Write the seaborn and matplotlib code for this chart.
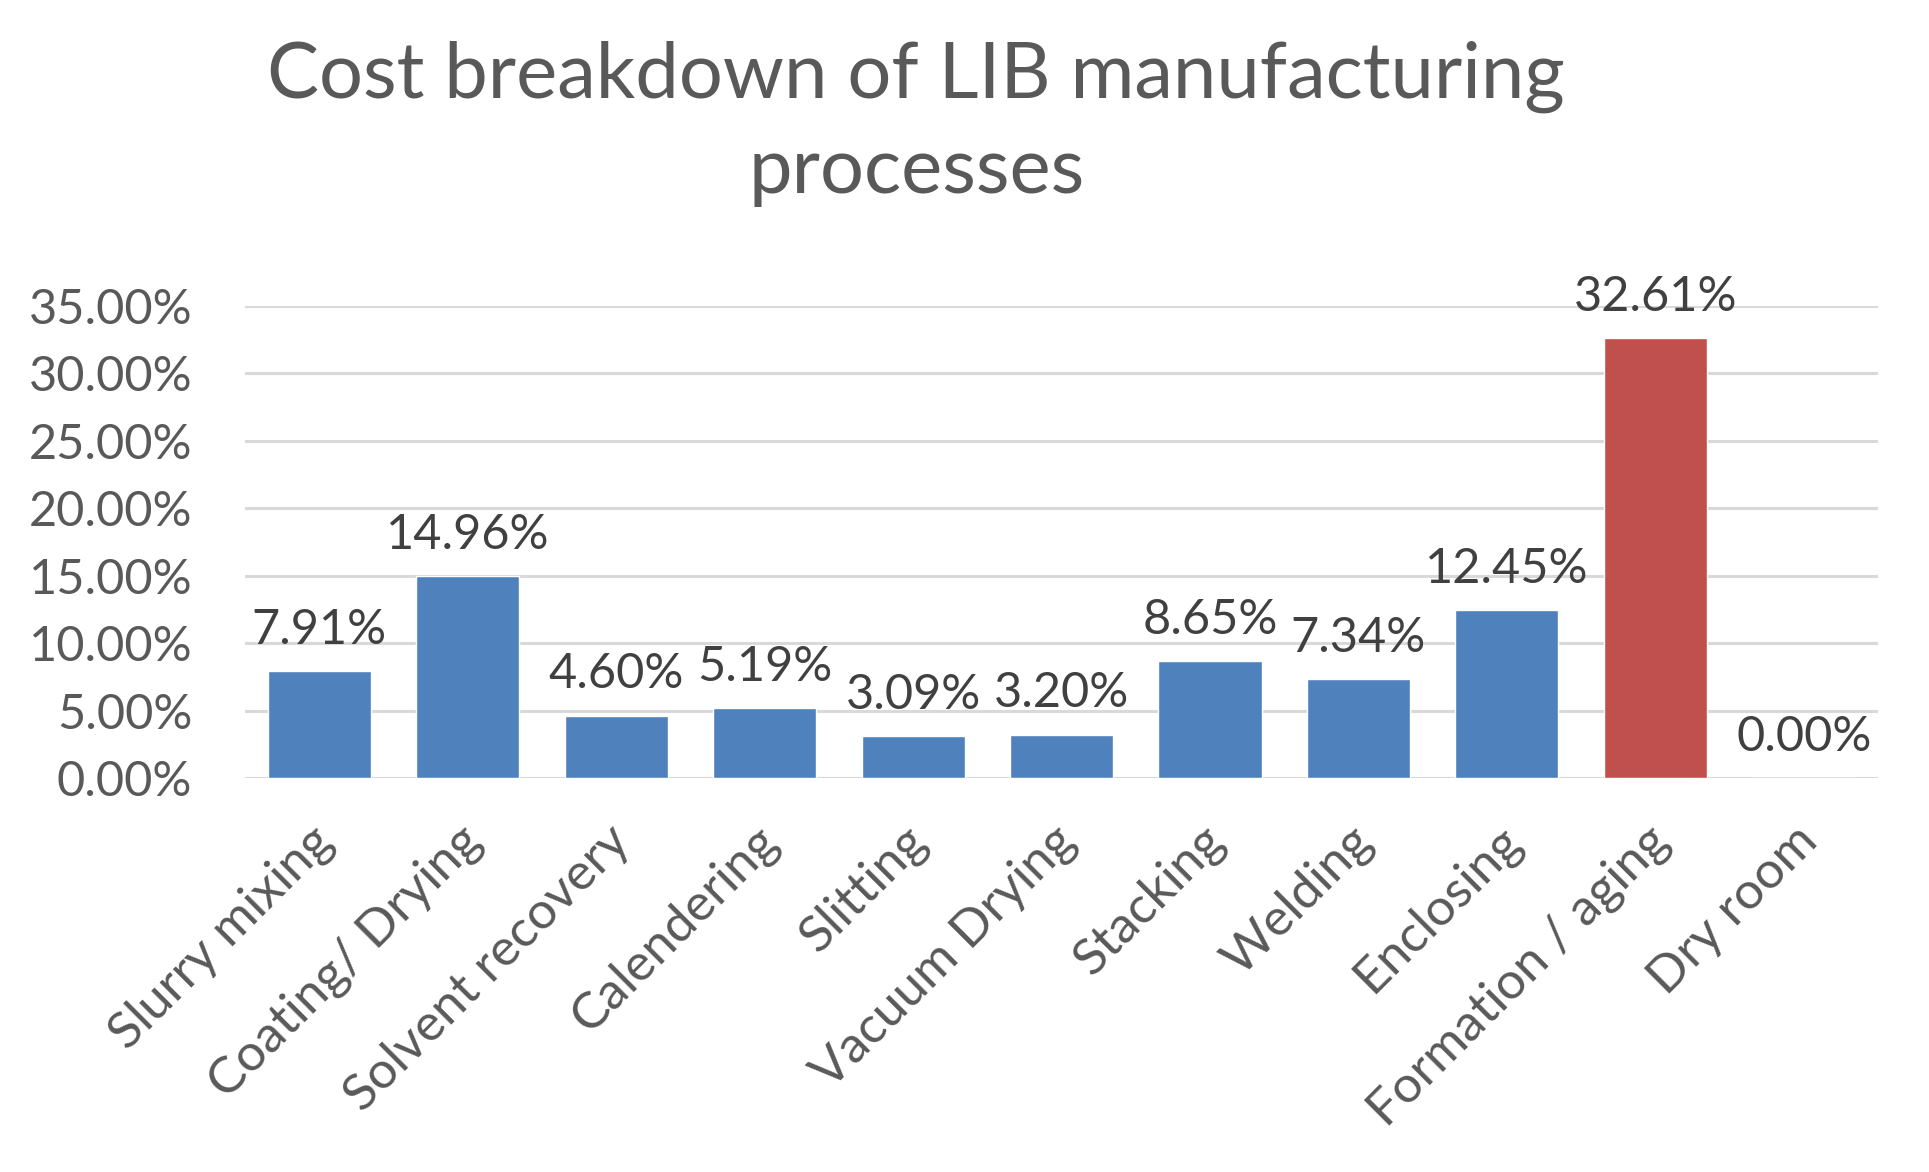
import pandas as pd
import matplotlib
matplotlib.use("Agg")
import matplotlib.pyplot as plt
import matplotlib.transforms as mtransforms
from matplotlib.ticker import FuncFormatter
import seaborn as sns

processes = ["Slurry mixing", "Coating/ Drying", "Solvent recovery", "Calendering",
             "Slitting", "Vacuum Drying", "Stacking", "Welding", "Enclosing",
             "Formation / aging", "Dry room"]
shares = [7.91, 14.96, 4.60, 5.19, 3.09, 3.20, 8.65, 7.34, 12.45, 32.61, 0.00]
highlight = "Formation / aging"

BLUE = "#4F81BD"
RED = "#C0504D"

sns.set_theme(style="white")
plt.rcParams["font.family"] = ["Lato", "DejaVu Sans"]

df = pd.DataFrame({"process": processes, "share": shares})
palette = {p: (RED if p == highlight else BLUE) for p in processes}

fig = plt.figure(figsize=(19.29, 11.72), dpi=100)
ax = fig.add_axes([0.127, 0.3362, 0.8466, 0.4027])

sns.barplot(data=df, x="process", y="share", hue="process", palette=palette,
            legend=False, width=0.694, saturation=1, ax=ax, zorder=3)

ax.set_ylim(0, 35)
ax.set_yticks(range(0, 36, 5))
ax.yaxis.set_major_formatter(FuncFormatter(lambda v, _: f"{v:.2f}%"))
ax.grid(axis="y", color="#D9D9D9", linewidth=2.2, zorder=0)
ax.set_axisbelow(True)
for s in ax.spines.values():
    s.set_visible(False)
ax.set_xlabel("")
ax.set_ylabel("")
ax.tick_params(axis="y", length=0, pad=38, labelsize=35, labelcolor="#595959")
ax.tick_params(axis="x", length=0, pad=40, labelsize=37, labelcolor="#595959")

# shift the rotated category labels a little to the right, like Excel does
offset = mtransforms.ScaledTranslation(6 / 100, 0, fig.dpi_scale_trans)
for lab in ax.get_xticklabels():
    lab.set_rotation(45)
    lab.set_ha("right")
    lab.set_va("center")
    lab.set_rotation_mode("anchor")
    lab.set_transform(lab.get_transform() + offset)

for cont in ax.containers:
    ax.bar_label(cont, labels=[f"{b.get_height():.2f}%" for b in cont],
                 padding=14, fontsize=35, color="#404040")

fig.text(0.475, 0.965, "Cost breakdown of LIB manufacturing\nprocesses",
         ha="center", va="top", fontsize=56, color="#595959", linespacing=1.4)

fig.savefig("out.png", dpi=100, facecolor="white")
